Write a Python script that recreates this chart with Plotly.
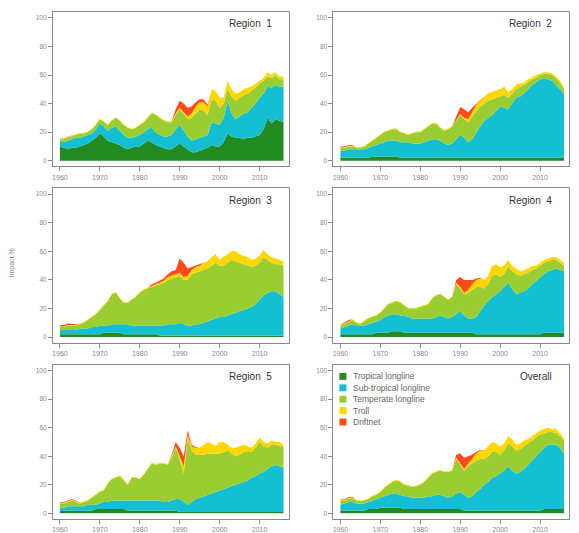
import plotly.graph_objects as go

years = list(range(1960, 2017))

series_names = ["Tropical longline", "Sub-tropical longline", "Temperate longline", "Troll", "Driftnet"]
colors = ["#228B22", "#14BFD2", "#9ACD32", "#FFD700", "#FF4A1A"]

# ---------------- Region 1 ----------------
r1_tropical = [10,9,8,9,9,10,11,12,14,16, 19,17,14,13,12,11,9,8,9,10, 10,12,14,13,11,10,9,8,8,10,
               12,10,8,6,6,7,8,9,11,10, 10,13,19,17,16,16,15,16,16,17, 18,22,30,26,29,28,27]
r1_subtropical = [4,4,6,6,7,6,6,6,5,6, 7,7,7,10,12,10,9,8,7,7, 8,8,8,10,9,8,8,9,10,12,
                  13,11,9,8,9,9,9,9,16,16, 15,17,23,16,13,15,18,18,21,23, 26,25,22,25,24,24,25]
r1_temperate = [1,2,2,2,2,3,2,2,3,3, 3,3,4,5,6,7,7,7,6,6, 7,7,8,10,12,12,11,10,9,10,
                11,12,12,16,18,20,18,14,16,16, 12,10,8,12,13,13,13,13,12,11, 10,9,7,7,7,5,5]
r1_troll = [0.5,0.5,0.5,0.5,0.5,0.5,0.5,0.5,0.5,0.5, 0.5,0.5,0.5,0.5,0.5,0.5,0.5,0.5,0.5,0.5,
            0.5,0.5,0.5,0.5,0.5,0.5,0.5,0.5,1,1, 1,1,2,3,5,5,6,6,7,7, 7,4,6,5,5,4,4,4,3,3, 2,2,3,2,2,2,2]
r1_driftnet = [0.3,0.3,0.3,0,0,0,0,0,0,0, 0,0,0,0,0,0,0,0,0,0, 0,0,0,0,0,0,0,0,0,3,
               5,6,6,5,3,2,2,1,0,0, 0,0,0,0,0,0,0,0,0,0, 0,0,0,0,0,0,0]

# ---------------- Region 2 ----------------
r2_tropical = [2,2,2,2,2,2,2,2,3,3, 3,3,3,3,3,2,2,2,2,2, 2,2,2,2,2,2,2,2,2,2,
               2,2,2,2,2,2,2,2,2,2, 2,2,2,2,2,2,2,2,2,2, 2,2,2,2,2,2,2]
r2_subtropical = [5,5,6,6,6,6,6,7,7,8, 9,10,11,11,11,11,11,11,10,10, 10,11,12,13,13,12,10,9,10,13,
                  16,14,11,13,18,22,26,28,30,33, 36,35,34,38,42,43,45,48,51,53, 55,56,55,54,51,48,44]
r2_temperate = [2,2,2,2,1,1,2,3,4,5, 6,7,7,8,8,7,6,5,7,8, 8,9,10,11,11,9,9,11,12,13,
                14,13,14,16,15,14,12,12,11,9, 7,9,8,7,6,7,6,5,4,3, 3,3,4,4,5,5,4]
r2_troll = [0.5,0.5,0.5,0.5,0.5,0.5,0.5,0.5,0.5,0.5, 0.5,0.5,0.5,0.5,0.5,0.5,0.5,0.5,0.5,0.5,
            0.5,0.5,0.5,0.5,0.5,0.5,0.5,0.5,0.5,0.5, 0.5,1,2,3,4,4,5,5,5,5, 5,6,4,3,3,2,2,2,1.5,1.5, 1,1,1,1,1,1,1]
r2_driftnet = [0.5,0.5,0.5,0.5,0,0,0,0,0,0, 0,0,0,0,0,0,0,0,0,0, 0,0,0,0,0,0,0,0,0,2,
               5,6,5,3,1,0.5,0,0,0,0, 0,0,0,0,0,0,0,0,0,0, 0,0,0,0,0,0,0]

# ---------------- Region 3 ----------------
r3_tropical = [2,2,2,2,2,2,2,2,2,2, 2,3,3,3,3,3,2,2,2,2, 2,2,2,2,2,1,1,1,1,1,
               1,1,1,1,1,1,1,1,1,1, 1,1,1,1,1,1,1,1,1,1, 1,1,1,1,1,1,1]
r3_subtropical = [3,3,3,3,3,4,4,4,5,5, 6,5,5,6,6,6,7,7,6,6, 6,6,6,6,6,7,7,8,8,8,
                  9,8,7,7,8,8,9,10,11,12, 13,13,14,15,16,17,18,19,20,22, 25,28,30,31,31,29,27]
r3_temperate = [2,2,3,3,3,3,4,6,7,9, 11,14,17,21,22,18,15,15,18,20, 23,25,26,27,28,29,30,31,32,33,
                33,31,32,36,36,37,37,37,38,39, 36,36,37,38,36,34,32,30,28,27, 26,27,23,20,19,21,22]
r3_troll = [0.5,0.5,0.5,0.5,0.5,0.5,0.5,0.5,0.5,0.5, 0.5,0.5,0.5,0.5,0.5,0.5,0.5,0.5,0.5,0.5,
            0.5,0.5,0.5,1,1,1,1.5,2,2,2, 2,2,3,3,4,4,5,5,6,6, 4,6,6,6,7,6,6,6,5,5, 5,5,4,4,4,3,3]
r3_driftnet = [1,1,1,0.5,0.5,0,0,0,0,0, 0,0,0,0,0,0,0,0,0,0, 0,0,0,1,1,1.5,1.5,2,3,3,
               10,10,5,2,1,0.5,0,0,0,0, 0,0,0,0,0,0,0,0,0,0, 0,0,0,0,0,0,0]

# ---------------- Region 4 ----------------
r4_tropical = [2,2,2,2,2,2,2,2,2,3, 3,3,3,4,4,4,3,3,3,3, 3,3,3,3,3,3,3,3,3,3,
               3,3,3,3,2,2,2,2,2,2, 2,2,2,2,2,2,2,2,2,2, 2,3,3,3,3,3,3]
r4_subtropical = [4,5,6,7,6,6,6,7,8,8, 9,11,12,12,12,11,12,11,10,10, 10,10,10,10,11,12,11,10,11,13,
                  15,12,10,10,12,16,20,23,26,28, 30,33,36,32,28,29,30,32,35,37, 40,41,43,44,45,44,43]
r4_temperate = [1.5,2,3,3,2,1,3,4,4,4, 5,6,8,8,9,9,7,6,7,7, 8,9,10,14,15,15,14,13,14,21,
                16,15,18,20,21,17,12,12,15,14, 10,9,12,12,14,12,12,11,10,9, 8,8,7,7,6,5,4]
r4_troll = [0.5,0.5,0.5,0.5,0.5,0.5,0.5,0.5,0.5,0.5, 0.5,0.5,0.5,0.5,0.5,0.5,0.5,0.5,0.5,0.5,
            0.5,0.5,0.5,0.5,0.5,0.5,0.5,0.5,0.5,1, 1,1,2,4,5,6,6,6,7,7, 7,6,4,4,4,3,3,3,3,2, 2,2,2,2,2,2,2]
r4_driftnet = [0.5,0.5,0.5,0,0,0,0,0,0,0, 0,0,0,0,0,0,0,0,0,0, 0,0,0,0,0,0,0,0,0,2,
               7,9,7,3,1,0.5,0,0,0,0, 0,0,0,0,0,0,0,0,0,0, 0,0,0,0,0,0,0]

# ---------------- Region 5 ----------------
r5_tropical = [2,2,2,2,2,2,2,2,2,3, 3,3,3,3,3,3,3,2,2,2, 2,2,2,2,2,2,2,2,2,2,
               1,1,1,1,1,1,1,1,1,1, 1,1,1,1,1,1,1,1,1,1, 1,1,1,1,1,1,1]
r5_subtropical = [2,2,3,3,3,3,3,4,4,3, 4,5,5,6,6,6,6,7,7,7, 7,7,7,7,7,7,6,6,7,8,
                  9,7,5,7,9,10,11,12,13,14, 15,16,17,18,19,20,21,22,24,25, 27,28,30,32,33,32,31]
r5_temperate = [3,3,3,4,3,2,3,3,5,7, 8,8,13,15,16,17,14,11,16,16, 15,18,22,26,25,26,27,26,30,36,
                28,20,46,36,31,30,29,29,28,27, 26,26,26,23,20,20,21,20,18,20, 22,18,15,15,14,14,15]
r5_troll = [0.5,0.5,0.5,0.5,0.5,0.5,0.5,0.5,0.5,0.5, 0.5,0.5,0.5,0.5,0.5,0.5,0.5,0.5,0.5,0.5,
            0.5,0.5,0.5,0.5,0.5,0.5,0.5,0.5,1,1, 2,5,3,3,5,5,7,8,7,5, 8,7,4,4,6,6,5,4,3,3, 3,3,3,3,2,3,1]
r5_driftnet = [0.5,0.5,0.5,0.5,0.5,0,0,0,0,0, 0,0,0,0,0,0,0,0,0,0, 0,0,0,0,0,0,0,0,1,3,
               6,7,3,1,0.5,0,0,0,0,0, 0,0,0,0,0,0,0,0,0,0, 0,0,0,0,0,0,0]

# ---------------- Overall ----------------
ov_tropical = [2,2,2,2,2,2,2,3,3,3, 4,4,4,4,4,4,3,3,3,3, 3,3,3,3,3,3,3,3,3,3,
               3,2,2,2,2,2,2,2,2,2, 2,2,2,2,2,2,2,2,2,2, 2,3,3,3,3,3,3]
ov_subtropical = [4,5,6,6,5,5,5,5,6,7, 7,8,9,10,10,9,9,9,8,8, 8,8,9,9,10,10,9,8,9,11,
                  12,11,9,10,13,15,18,20,23,24, 26,28,31,28,26,27,29,32,35,38, 41,43,45,45,45,43,39]
ov_temperate = [2.5,2,2.5,2.5,2,1.5,2,2,3,3, 4,6,7,8,9,9,8,7,7.5,8, 9,11,13,16,16,17,17,18,18,24,
                19,17,22,23,22,21,18,18,18,17, 13,14,16,17,16,16,16,15,14,13, 12,10,9,9,8,8,9]
ov_troll = [0.5,0.5,0.5,0.5,0.5,0.5,0.5,0.5,0.5,0.5, 0.5,0.5,0.5,0.5,0.5,0.5,0.5,0.5,0.5,0.5,
            0.5,0.5,0.5,0.5,0.5,0.5,0.5,0.5,0.5,1, 1,1,2,3,5,6,6,7,7,6, 6,5,5,5,4,4,4,3,3,3, 3,3,3,2,3,2,2]
ov_driftnet = [0.5,0.5,0.5,0.5,0,0,0,0,0,0, 0,0,0,0,0,0,0,0,0,0, 0,0,0,0,0,0,0,0,0,2,
               7,8,5,3,1,0.5,0,0,0,0, 0,0,0,0,0,0,0,0,0,0, 0,0,0,0,0,0,0]

panels = [
    ("Region\u00a0\u00a01", [r1_tropical, r1_subtropical, r1_temperate, r1_troll, r1_driftnet]),
    ("Region\u00a0\u00a02", [r2_tropical, r2_subtropical, r2_temperate, r2_troll, r2_driftnet]),
    ("Region\u00a0\u00a03", [r3_tropical, r3_subtropical, r3_temperate, r3_troll, r3_driftnet]),
    ("Region\u00a0\u00a04", [r4_tropical, r4_subtropical, r4_temperate, r4_troll, r4_driftnet]),
    ("Region\u00a0\u00a05", [r5_tropical, r5_subtropical, r5_temperate, r5_troll, r5_driftnet]),
    ("Overall", [ov_tropical, ov_subtropical, ov_temperate, ov_troll, ov_driftnet]),
]

y_ticks = [0, 20, 40, 60, 80, 100]
x_ticks = [1960, 1970, 1980, 1990, 2000, 2010]

W, H = 579, 533
col_px = [(52, 288), (333, 569)]
row_px = [(12, 168), (190, 346), (368, 524)]

FONT = "Liberation Sans, Arial, sans-serif"
AX_GREY = "#8a8a8a"

fig = go.Figure()
layout = dict(
    width=W, height=H, autosize=False,
    margin=dict(l=0, r=0, t=0, b=0),
    paper_bgcolor="white", plot_bgcolor="white",
    showlegend=False,
    font=dict(family=FONT, size=7, color="#777"),
)

annotations = []
for i, (label, vals) in enumerate(panels):
    r, c = divmod(i, 2)
    ax = "" if i == 0 else str(i + 1)
    xa, ya = "x" + ax, "y" + ax
    for name, col, v in zip(series_names, colors, vals):
        fig.add_trace(go.Scatter(
            x=years, y=v, name=name, mode="lines",
            stackgroup="s%d" % i, line=dict(width=0, color=col),
            fillcolor=col, xaxis=xa, yaxis=ya, hoverinfo="skip",
        ))
    x0, x1 = col_px[c]
    y0, y1 = row_px[r]
    layout["xaxis" + ax] = dict(
        domain=[x0 / W, x1 / W], anchor=ya, range=[1958.25, 2017.25],
        tickvals=x_ticks, ticks="outside", ticklen=4, tickcolor=AX_GREY, tickwidth=1,
        showline=True, linecolor=AX_GREY, linewidth=1, mirror=True,
        showgrid=False, zeroline=False, tickfont=dict(size=7, color="#888"),
    )
    layout["yaxis" + ax] = dict(
        domain=[1 - y1 / H, 1 - y0 / H], anchor=xa, range=[-4, 104.2],
        tickvals=y_ticks, ticks="outside", ticklen=4, tickcolor=AX_GREY, tickwidth=1,
        showline=True, linecolor=AX_GREY, linewidth=1, mirror=True,
        showgrid=False, zeroline=False, tickfont=dict(size=6.5, color="#888"),
    )
    annotations.append(dict(
        text=label, xref="paper", yref="paper",
        x=(x1 - 15) / W, y=1 - (y0 + 12) / H, xanchor="right", yanchor="middle",
        showarrow=False, font=dict(family=FONT, size=10, color="#333"),
    ))

# y-axis title
annotations.append(dict(
    text="Impact %", xref="paper", yref="paper", x=11 / W, y=1 - 265 / H,
    textangle=-90, showarrow=False, xanchor="center", yanchor="middle",
    font=dict(family=FONT, size=7, color="#888"),
))

# legend inside Overall panel
shapes = []
leg_rows = [380, 391.5, 403, 414.5, 426]
for name, col, yy in zip(series_names, colors, leg_rows):
    shapes.append(dict(type="rect", xref="paper", yref="paper",
                       x0=339 / W, x1=346 / W, y0=1 - (yy + 3.5) / H, y1=1 - (yy - 3.5) / H,
                       fillcolor=col, line=dict(width=0)))
    annotations.append(dict(
        text=name, xref="paper", yref="paper", x=351 / W, y=1 - yy / H,
        xanchor="left", yanchor="middle", showarrow=False,
        font=dict(family=FONT, size=8.5, color="#666"),
    ))

layout["annotations"] = annotations
layout["shapes"] = shapes
fig.update_layout(**layout)

fig.write_html("out.html", config={"displayModeBar": False},
               post_script="document.body.style.margin='0';")
